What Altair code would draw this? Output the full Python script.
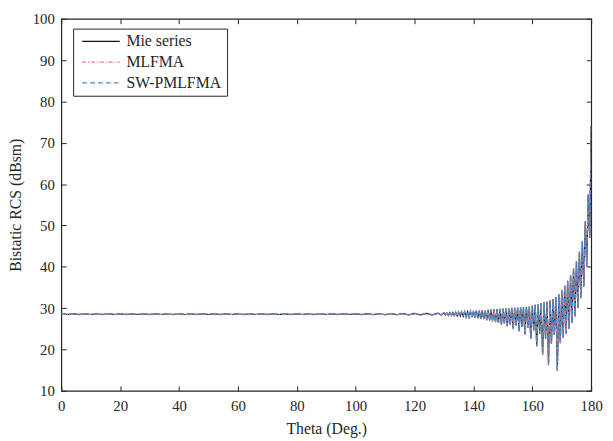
import altair as alt
import pandas as pd

series_names = ["Mie series", "MLFMA", "SW-PMLFMA"]
series_colors = ["#111111", "#EE7F7F", "#4A88CC"]
series_dashes = [[1, 0], [4, 2, 1, 2], [5, 3]]
series_widths = [1.2, 1.3, 1.5]

x_ticks = [0, 20, 40, 60, 80, 100, 120, 140, 160, 180]
y_ticks = [10, 20, 30, 40, 50, 60, 70, 80, 90, 100]

# flat part of the pattern (0 .. 128 deg)
theta_flat = [0, 2, 4, 6, 8, 10, 12, 14, 16, 18, 20, 22, 24, 26, 28, 30, 32, 34, 36, 38,
              40, 42, 44, 46, 48, 50, 52, 54, 56, 58, 60, 62, 64, 66, 68, 70, 72, 74, 76, 78,
              80, 82, 84, 86, 88, 90, 92, 94, 96, 98, 100, 102, 104, 106, 108, 110, 112, 114,
              116, 118, 120, 122, 124, 126, 128]
rcs_flat = [28.75, 28.45, 28.65, 28.45, 28.6, 28.45, 28.6, 28.45, 28.6, 28.45,
            28.6, 28.45, 28.6, 28.45, 28.6, 28.45, 28.6, 28.45, 28.6, 28.45,
            28.6, 28.45, 28.6, 28.45, 28.6, 28.45, 28.6, 28.45, 28.6, 28.45,
            28.6, 28.45, 28.6, 28.45, 28.6, 28.45, 28.6, 28.45, 28.6, 28.45,
            28.6, 28.45, 28.6, 28.45, 28.6, 28.45, 28.6, 28.45, 28.6, 28.45,
            28.62, 28.43, 28.63, 28.42, 28.64, 28.41, 28.66, 28.4, 28.68, 28.38,
            28.7, 28.36, 28.73, 28.34, 28.78]

# oscillating part (129 .. 180 deg)
theta_osc = [129, 130, 130.5, 131, 131.5, 132, 132.5, 133, 133.5, 134, 134.5, 135, 135.5,
             136, 136.5, 137, 137.5, 138, 138.5, 139, 139.5, 140, 140.5, 141, 141.5,
             142, 142.5, 143, 143.5, 144, 144.5, 145, 145.5, 146, 146.5, 147, 147.5,
             148, 148.5, 149, 149.5, 150, 150.5, 151, 151.5, 152, 152.5, 153, 153.5,
             154, 154.5, 155, 155.5, 156, 156.5, 157, 157.5, 158, 158.5, 159, 159.5,
             160, 160.5, 161, 161.5, 162, 162.5, 163, 163.5, 164, 164.5, 165, 165.5,
             166, 166.5, 167, 167.5, 168, 168.5, 169, 169.5, 170, 170.5, 171, 171.5,
             172, 172.5, 173, 173.5, 174, 174.5, 175, 175.5, 176, 176.5, 177, 177.5,
             178, 178.5, 179, 179.5, 180]
rcs_osc = [28.32, 28.85, 28.3, 28.85, 28.25, 28.9, 28.2, 28.9, 28.15, 28.95, 28.1, 29.0, 28.05,
           29.05, 28.0, 29.1, 27.9, 29.15, 27.85, 29.2, 27.8, 29.3, 27.7, 29.35, 27.6,
           29.4, 27.45, 29.45, 27.3, 29.5, 27.1, 29.6, 27.0, 29.65, 26.8, 29.7, 26.6,
           29.75, 26.4, 29.8, 26.0, 29.9, 26.2, 29.95, 25.6, 30.0, 25.9, 30.05, 25.0,
           30.1, 25.8, 30.15, 24.4, 30.2, 25.5, 30.25, 23.6, 30.3, 25.2, 30.4, 22.6,
           30.6, 24.6, 30.8, 20.8, 31.0, 23.8, 31.2, 18.7, 31.4, 22.6, 31.6, 16.3,
           31.9, 21.4, 32.2, 23.5, 32.7, 14.8, 33.4, 21.5, 34.3, 22.8, 35.4, 23.8,
           36.6, 25.0, 38.0, 26.4, 39.6, 28.0, 41.4, 30.0, 43.6, 32.4, 46.2, 35.2,
           51.0, 40.0, 57.5, 47.0, 74.0]

theta = theta_flat + theta_osc
rcs = rcs_flat + rcs_osc

rows = []
for s in series_names:
    for t, v in zip(theta, rcs):
        rows.append({"theta": t, "rcs": v, "series": s})
df = pd.DataFrame(rows)

FONT = "Liberation Serif"
TXT = "#262626"

xscale = alt.Scale(domain=[0, 180], nice=False, zero=False)
yscale = alt.Scale(domain=[10, 100], nice=False, zero=False)

# legend line sample: a path running from the entry start to 5x the symbol's nominal width
LEG_PATH = "M-1,0H9"
legend_cfg = dict(orient="none", legendX=12, legendY=10, title=None,
                  strokeColor="#262626", fillColor="white", padding=5,
                  labelFont=FONT, labelFontSize=16, labelColor=TXT,
                  symbolType=LEG_PATH, symbolSize=58, symbolStrokeWidth=1.3,
                  rowPadding=5, labelOffset=33, labelLimit=300)

color = alt.Color("series:N", scale=alt.Scale(domain=series_names, range=series_colors),
                  legend=alt.Legend(**legend_cfg))
dash = alt.StrokeDash("series:N", scale=alt.Scale(domain=series_names, range=series_dashes),
                      legend=alt.Legend(**legend_cfg))
width_enc = alt.StrokeWidth("series:N", scale=alt.Scale(domain=series_names, range=series_widths),
                            legend=None)

main_x = alt.Axis(orient="bottom", values=x_ticks, ticks=False, domain=False, grid=False,
                  labelFont=FONT, labelFontSize=15, labelColor=TXT, labelPadding=8,
                  labelFlush=False, labelOverlap=False,
                  titleFont=FONT, titleFontSize=16, titleFontWeight="normal", titleColor=TXT,
                  titlePadding=7)
main_y = alt.Axis(orient="left", values=y_ticks, ticks=False, domain=False, grid=False,
                  labelFont=FONT, labelFontSize=15, labelColor=TXT, labelPadding=7,
                  labelFlush=False, labelOverlap=False,
                  titleFont=FONT, titleFontSize=16, titleFontWeight="normal", titleColor=TXT,
                  titlePadding=9)
in_bottom = alt.Axis(orient="bottom", values=x_ticks, labels=False, domain=False, grid=False,
                     tickSize=5, offset=-5, tickColor=TXT)
in_left = alt.Axis(orient="left", values=y_ticks, labels=False, domain=False, grid=False,
                   tickSize=5, offset=-5, tickColor=TXT)
in_top = alt.Axis(orient="top", values=x_ticks, labels=False, domain=False, grid=False,
                  tickSize=5, offset=-5, tickColor=TXT)
in_right = alt.Axis(orient="right", values=y_ticks, labels=False, domain=False, grid=False,
                    tickSize=5, offset=-5, tickColor=TXT)


def layer(name, xaxis, yaxis, xtitle, ytitle):
    return alt.Chart(df).transform_filter(alt.datum.series == name).mark_line(
        strokeCap="butt", strokeJoin="miter", clip=True
    ).encode(
        x=alt.X("theta:Q", scale=xscale, axis=xaxis, title=xtitle),
        y=alt.Y("rcs:Q", scale=yscale, axis=yaxis, title=ytitle),
        color=color,
        strokeDash=dash,
        strokeWidth=width_enc,
        order=alt.Order("theta:Q"),
    )


chart = alt.layer(
    layer(series_names[0], main_x, main_y, "Theta (Deg.)", "Bistatic RCS (dBsm)"),
    layer(series_names[1], in_bottom, in_left, None, None),
    layer(series_names[2], in_top, in_right, None, None),
).resolve_axis(x="independent", y="independent").properties(
    width=537, height=377,
    autosize=alt.AutoSizeParams(type="none"),
    padding={"left": 54, "top": 8, "right": 14, "bottom": 48},
).configure_view(stroke=TXT, strokeWidth=1.2)

chart.save("out.html", embed_options={"renderer": "svg", "actions": False})
